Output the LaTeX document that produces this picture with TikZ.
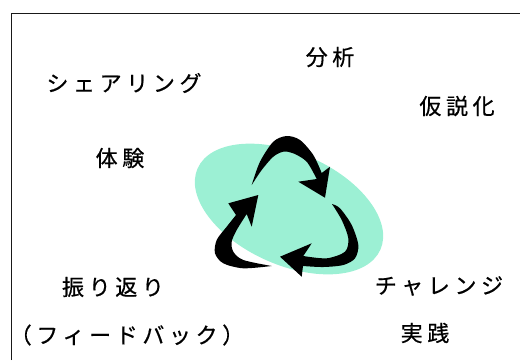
\documentclass[tikz,border=0pt]{standalone}
\usepackage{fontspec}
\newfontfamily\jpfont[LetterSpace=21,FakeBold=0.6]{Noto Sans CJK JP}
\definecolor{mint}{HTML}{9CF0D4}
\tikzset{lbl/.style={font=\jpfont\fontsize{22}{26}\selectfont, inner sep=0pt}}

\begin{document}
\begin{tikzpicture}[x=1pt,y=-1pt]
  \useasboundingbox (0,0) rectangle (520,360);
  \draw[line width=1.3pt, black!90] (11.5,360) -- (11.5,13.5) -- (520,13.5);
  \fill[mint, rotate around={-24:(289,209)}] (289,209) ellipse [x radius=100pt, y radius=56pt];
  \fill (251.7,185) -- plot[smooth] coordinates {(251.7,185) (260,161.7) (273.3,141.7) (286.7,136) (300,140) (313.3,155) (321.7,173)}
    -- (330,166.7) -- (325,197.7) -- (298.3,181.7) -- (316.7,179)
    -- plot[smooth] coordinates {(316.7,179) (306.7,161.7) (293.3,153.3) (283.3,151.7) (273.3,156.7) (261.7,170) (251.7,185)} -- cycle;
  \fill (332,204) -- plot[smooth] coordinates {(332,204) (340,208.3) (351.7,225) (358.3,245) (355,258.3) (343.3,265) (323.3,267) (303,266)}
    -- (301.7,276.7) -- (280,256.7) -- (311.7,243.3) -- (303.3,256)
    -- plot[smooth] coordinates {(303.3,256) (326.7,258.3) (345,251.7) (348.3,238.3) (341.7,220) (332,204)} -- cycle;
  \fill (271.7,266) -- plot[smooth] coordinates {(271.7,266) (243.3,268.3) (223.3,263.3) (215,253.3) (216.7,240) (226.7,226.7) (236,215)}
    -- (228.3,203.3) -- (258.3,195) -- (251.7,226.7) -- (246.7,214)
    -- plot[smooth] coordinates {(246.7,214) (236.7,230) (231.7,241.7) (233.3,251.7) (243.3,260) (271.7,266)} -- cycle;
  \node[lbl] (analysis) at (330,57) {分析};
  \node[lbl] (sharing) at (124,83) {シェアリング};
  \node[lbl] (hypothesis) at (457,106) {仮説化};
  \node[lbl] (experience) at (120,158) {体験};
  \node[lbl] (reflection) at (113,287) {振り返り};
  \node[lbl] (feedback) at (127,335) {（フィードバック）};
  \node[lbl] (challenge) at (439,286) {チャレンジ};
  \node[lbl] (practice) at (425,333) {実践};
\end{tikzpicture}
\end{document}
